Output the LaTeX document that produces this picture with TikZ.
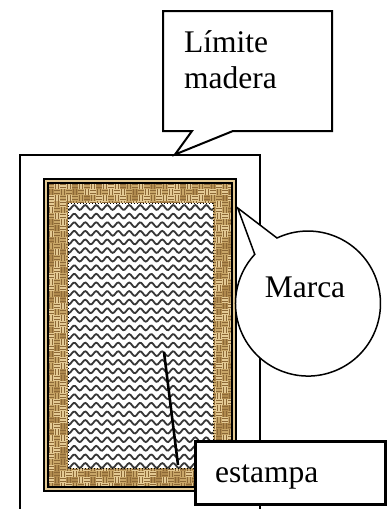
\documentclass[tikz,border=0pt]{standalone}
\usepackage{fontspec}
\setmainfont{Liberation Serif}
\definecolor{wbase}{RGB}{200,166,104}
\definecolor{wlight}{RGB}{228,202,148}
\definecolor{wmid}{RGB}{176,138,78}
\definecolor{wdark}{RGB}{140,104,54}
\definecolor{wavecol}{RGB}{55,55,55}
\tikzset{
  calloutline/.style={draw=black, fill=white, line join=miter},
  lbl/.style={inner sep=0pt, font=\fontsize{31.5}{36}\selectfont},
  wavestyle/.style={draw=wavecol, line width=1.8pt},
}
\newcommand\weaverow[2]{%
  \foreach \xx [count=\ii] in {#1}{%
    \foreach \yy [count=\jj] in {#2}{%
      \pgfmathsetmacro\rr{rnd}%
      \pgfmathtruncatemacro\pp{mod(\ii+\jj,2)}%
      \ifdim\rr pt<0.4pt \def\cc{wlight}\else\ifdim\rr pt<0.75pt \def\cc{wbase}\else\def\cc{wmid}\fi\fi
      \fill[\cc] (\xx,\yy) rectangle ++(6,6);
      \ifnum\pp=0
        \draw[wdark, line width=0.7pt] (\xx,\yy+1.5) -- ++(6,0) (\xx,\yy+4.5) -- ++(6,0);
      \else
        \draw[wdark, line width=0.7pt] (\xx+1.5,\yy) -- ++(0,6) (\xx+4.5,\yy) -- ++(0,6);
      \fi
    }%
  }%
}
\begin{document}
\begin{tikzpicture}[x=1pt, y=1pt, yscale=-1]
\useasboundingbox (0,0) rectangle (387,509);
\fill[white] (0,0) rectangle (387,509);
% outer board (wood limit)
\draw[line width=1.5pt] (20,512) -- (20,155) -- (260,155) -- (260,512);
% frame (marca)
\fill[wlight] (43,178) rectangle (237,492);
\pgfmathsetseed{11}
\begin{scope}
  \clip (48,183) rectangle (232,487);
  \weaverow{48,54,...,228}{183,189,...,201}
  \weaverow{48,54,...,228}{465,471,...,483}
  \weaverow{48,54,...,66}{201,207,...,465}
  \weaverow{210,216,...,228}{201,207,...,465}
\end{scope}
\draw[line width=2pt] (44.3,179.3) rectangle (235.7,490.7);
\draw[line width=1.1pt] (48,183) rectangle (232,487);
% stamp area
\node[fill=white, inner sep=0pt, minimum width=145pt, minimum height=265pt, anchor=north west] (stamp) at (68,203) {};
\begin{scope}
  \clip (68,203) rectangle (213,468);
  \foreach \yy in {207.5,216.1,...,470}{
    \draw[wavestyle] plot[domain=66:215, samples=100, smooth] (\x, {\yy + 2.4*sin((\x-66)*32.727)});
  }
\end{scope}
\draw[black, line width=1pt, dotted] (68,203) rectangle (213,468);
% callout: Limite madera
\coordinate (ltip) at (175,154.5);
\draw[calloutline, line width=2pt] (163,11) -- (332,11) -- (332,131) -- (233,131) -- (ltip) -- (192,131) -- (163,131) -- cycle;
\node[lbl, anchor=base west, align=left] (limite) at (184,88) {Límite\\madera};
% callout: Marca
\coordinate (mtip) at (237.7,208);
\draw[calloutline, line width=1.5pt] (255,255) -- (mtip) -- (277,238) arc[start angle=-115.3, end angle=222.8, radius=72.5pt] -- cycle;
\node[lbl, anchor=base] (marca) at (305,297) {Marca};
% callout: estampa
\draw[line width=3pt, fill=white] (195,441) rectangle (385,504);
\node[lbl, anchor=base west] (estampa) at (215,482) {estampa};
\coordinate (sa) at (164,352);
\coordinate (sb) at (178,465);
\draw[line width=2.6pt] (sa) -- (sb);
\end{tikzpicture}
\end{document}
